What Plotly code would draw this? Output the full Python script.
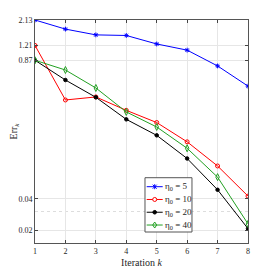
import plotly.graph_objects as go

iterations = [1, 2, 3, 4, 5, 6, 7, 8]
err_eta5 = [2.13, 1.74, 1.53, 1.51, 1.25, 1.09, 0.767, 0.49]
err_eta10 = [1.21, 0.36, 0.385, 0.286, 0.218, 0.142, 0.083, 0.0425]
err_eta20 = [0.87, 0.561, 0.382, 0.234, 0.164, 0.098, 0.0489, 0.0206]
err_eta40 = [0.87, 0.701, 0.47, 0.276, 0.1975, 0.123, 0.0648, 0.0229]
series_names = ["η<sub>0</sub> = 5", "η<sub>0</sub> = 10", "η<sub>0</sub> = 20", "η<sub>0</sub> = 40"]
y_ticks = [0.02, 0.04, 0.87, 1.21, 2.13]
y_tick_labels = ["0.02", "0.04", "0.87", "1.21", "2.13"]

FONT = "Liberation Serif"
styles = [
    dict(color="#0000FF", symbol="asterisk-open", size=4),
    dict(color="#FF0000", symbol="circle-open", size=4),
    dict(color="#000000", symbol="circle", size=3.5),
    dict(color="#22A022", symbol="diamond-tall-open", size=5),
]

fig = go.Figure()
for name, vals, st in zip(series_names, [err_eta5, err_eta10, err_eta20, err_eta40], styles):
    fig.add_trace(go.Scatter(
        x=iterations, y=vals, name=name, mode="lines+markers", showlegend=False,
        line=dict(color=st["color"], width=1),
        marker=dict(symbol=st["symbol"], size=st["size"], color=st["color"],
                    line=dict(color=st["color"], width=1)),
    ))

# compact MATLAB-style legend drawn as layout decorations
box = dict(x0=0.5164, x1=0.737, y0=0.0493, y1=0.2928)
row_top, row_step = 0.2525, 0.0573
fig.add_shape(type="rect", xref="paper", yref="paper", **box,
              line=dict(color="#555555", width=1), fillcolor="white", layer="above")
marker_paths = {
    "asterisk-open": "M-2,-2 L2,2 M-2,2 L2,-2 M0,-2.5 L0,2.5",
    "diamond-tall-open": "M0,3 L2,0 L0,-3 L-2,0 Z",
}
for i, (name, st) in enumerate(zip(series_names, styles)):
    ry = row_top - i * row_step
    fig.add_shape(type="line", xref="paper", yref="paper", x0=0.5244, x1=0.5995, y0=ry, y1=ry,
                  line=dict(color=st["color"], width=1), layer="above")
    common = dict(xref="paper", yref="paper", xsizemode="pixel", ysizemode="pixel",
                  xanchor=0.562, yanchor=ry, layer="above", line=dict(color=st["color"], width=1))
    if st["symbol"] in marker_paths:
        fig.add_shape(type="path", path=marker_paths[st["symbol"]], **common)
    else:
        r = 2 if st["symbol"] == "circle-open" else 1.8
        fig.add_shape(type="circle", x0=-r, x1=r, y0=-r, y1=r,
                      fillcolor="white" if st["symbol"] == "circle-open" else st["color"], **common)
    fig.add_annotation(xref="paper", yref="paper", x=0.603, y=ry, text=name, showarrow=False,
                       xanchor="left", yanchor="middle",
                       font=dict(family=FONT, size=9, color="#262626"))

fig.update_layout(
    width=266, height=265,
    margin=dict(l=27, r=26, t=12, b=30),
    paper_bgcolor="white", plot_bgcolor="white",
    font=dict(family=FONT, size=8, color="#262626"),
    showlegend=False,
)
fig.update_xaxes(
    range=[1, 8], tickvals=iterations, ticks="inside", ticklen=3,
    showline=True, linecolor="#555555", linewidth=1, mirror="ticks",
    showgrid=True, gridcolor="#E6E6E6", gridwidth=1, zeroline=False,
    automargin=False,
    title=dict(text="Iteration <i>k</i>", font=dict(family=FONT, size=10), standoff=4),
)
fig.update_yaxes(
    type="log", range=[-1.8245, 0.3284],
    tickvals=y_ticks, ticktext=y_tick_labels, ticks="inside", ticklen=3,
    showline=True, linecolor="#555555", linewidth=1, mirror="ticks",
    showgrid=True, gridcolor="#E6E6E6", gridwidth=1, zeroline=False,
    automargin=False,
    minor=dict(tickvals=[0.03], showgrid=True, gridcolor="#DDDDDD", griddash="dot", ticks=""),
    title=dict(text="Err<sub><i>k</i></sub>", font=dict(family=FONT, size=10), standoff=2),
)

fig.write_html("out.html")
